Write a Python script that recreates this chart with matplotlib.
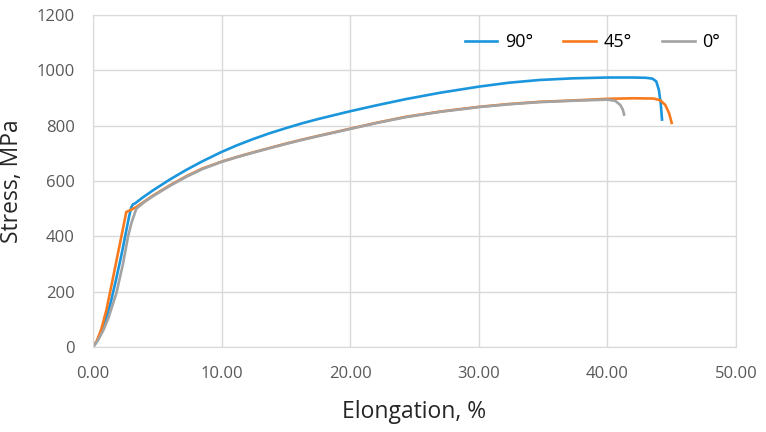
"""
Stress-elongation curves for three specimen orientations.
"""

import matplotlib
matplotlib.use("Agg")
import matplotlib.pyplot as plt
from matplotlib.ticker import FormatStrFormatter

plt.rcParams['font.family'] = ['Open Sans', 'DejaVu Sans']

# 90 deg specimen
x_90 = [0, 0.3, 0.6, 1.0, 1.4, 1.8, 2.2, 2.5, 2.8, 2.98, 3.1, 3.3, 3.8, 4.66,
        6.0, 7.25, 8.5, 10, 11.2, 12.42, 13.7, 15, 16.3, 17.6, 19.9, 22,
        24.34, 27, 30, 32.3, 34.7, 37.3, 40, 42, 43.0, 43.5, 43.8, 44.0,
        44.15, 44.25]
y_90 = [0, 20, 50, 100, 165, 245, 330, 400, 470, 505, 515, 520, 538, 566,
        606, 640, 671, 705, 729, 751, 772, 791, 809, 825, 851, 873,
        896, 919, 941, 955, 965, 971, 974, 974, 973, 970, 960, 930,
        880, 822]

# 45 deg specimen
x_45 = [0, 0.3, 0.65, 1.04, 1.6, 2.2, 2.59, 3.0, 3.37, 4.0, 4.66,
        6.0, 7.25, 8.5, 10, 11.2, 12.42, 13.7, 15, 16.3, 17.6, 19.9, 22,
        24.34, 27, 30, 32.3, 34.7, 37.3, 40, 42, 43.6, 44.1, 44.5, 44.8, 45.0]
y_45 = [0, 22, 65, 133, 260, 398, 488, 497, 506, 526, 547,
        585, 617, 645, 670, 687, 703, 719, 735, 750, 764, 788, 810,
        832, 851, 868, 878, 886, 891, 897, 899, 898, 892, 875, 845, 810]

# 0 deg specimen
x_0 = [0, 0.4, 0.8, 1.2, 1.81, 2.33, 2.72, 3.0, 3.37, 4.0, 4.66, 6.0, 7.25,
       8.5, 10, 11.2, 12.42, 13.7, 15, 16.3, 17.6, 19.9, 22, 24.34, 27, 30,
       32.3, 34.7, 37.3, 40, 40.6, 41.0, 41.2, 41.3]
y_0 = [0, 25, 60, 105, 193, 300, 398, 450, 500, 524, 545, 583, 615,
       643, 669, 686, 702, 718, 734, 749, 763, 787, 809, 831, 850, 867,
       877, 885, 890, 894, 890, 875, 858, 840]

labels = ['90°', '45°', '0°']
colors = ['#1b96dc', '#f77a1e', '#a3a3a3']

fig = plt.figure(figsize=(7.66, 4.32), dpi=100)
ax = fig.add_axes([0.1214, 0.1968, 0.8394, 0.7685])

ax.plot(x_90, y_90, color=colors[0], lw=1.9, label=labels[0])
ax.plot(x_45, y_45, color=colors[1], lw=1.9, label=labels[1])
ax.plot(x_0, y_0, color=colors[2], lw=1.9, label=labels[2])

ax.set_xlim(0, 50)
ax.set_ylim(0, 1200)
ax.set_xticks(range(0, 51, 10))
ax.set_yticks(range(0, 1201, 200))
ax.xaxis.set_major_formatter(FormatStrFormatter('%.2f'))

ax.grid(True, color='#d9d9d9', lw=1.0)
ax.set_axisbelow(True)
for s in ax.spines.values():
    s.set_color('#d9d9d9')
ax.tick_params(length=0, labelsize=12, labelcolor='#595959')
ax.tick_params(axis='x', pad=14)
ax.tick_params(axis='y', pad=13)

ax.set_xlabel('Elongation, %', fontsize=16.5, color='#262626', labelpad=13)
ax.set_ylabel('Stress, MPa', fontsize=16.5, color='#262626', labelpad=9)

ax.legend(loc='upper right', ncol=3, frameon=False, fontsize=13,
          handlelength=1.8, columnspacing=1.7, handletextpad=0.4,
          bbox_to_anchor=(1.0, 0.995))

fig.savefig('out.png', dpi=100, facecolor='white')
